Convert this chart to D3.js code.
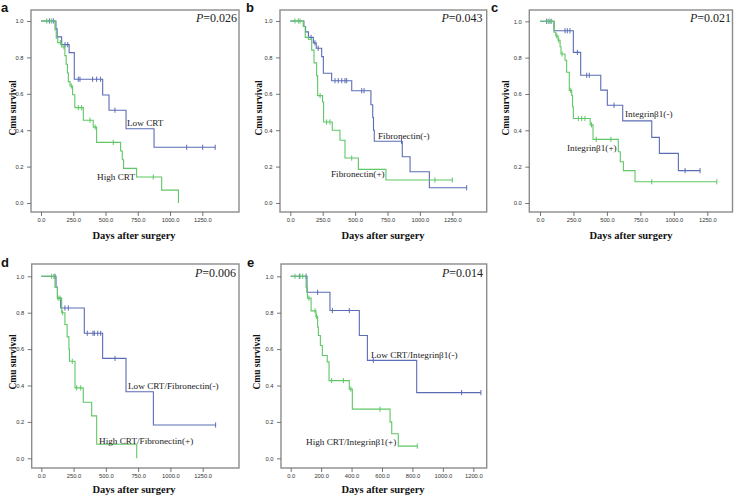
<!DOCTYPE html>
<html><head><meta charset="utf-8">
<script src="https://cdn.jsdelivr.net/npm/d3@7"></script>
<style>body{margin:0;background:#fff} svg{display:block}</style>
</head><body>
<svg id="chart" width="734" height="496"></svg>
<script>
// ---------- DATA ----------
const survTicks = [0, 0.2, 0.4, 0.6, 0.8, 1.0];
const daysTicks = [0, 250, 500, 750, 1000, 1250];
const daysTicksE = [0, 200, 400, 600, 800, 1000, 1200];

// Panel a
const aLowT = [0,116,125,160,218,258,478,527,659,876,1350];
const aLowS = [1,0.957,0.913,0.87,0.826,0.68,0.593,0.51,0.408,0.306,0.306];
const aLowC = [65,95,186,207,289,302,400,431,462,573,1129,1253,1350];
const aHighT = [0,108,118,130,160,185,195,205,212,225,245,262,328,405,431,617,630,640,741,935,1065];
const aHighS = [1,0.952,0.905,0.881,0.857,0.81,0.762,0.714,0.667,0.643,0.595,0.524,0.455,0.417,0.333,0.286,0.238,0.19,0.143,0.071,0];
const aHighC = [45,80,150,178,235,289,315,380,420,560,870];

// Panel b
const bNegT = [0,105,118,140,178,200,242,255,319,474,622,636,642,648,864,924,1073,1361];
const bNegS = [1,0.97,0.94,0.91,0.88,0.85,0.804,0.713,0.672,0.617,0.54,0.47,0.40,0.339,0.254,0.172,0.084,0.084];
const bNegC = [160,190,215,345,370,397,422,435,551,569,858,1361];
const bPosT = [0,100,115,139,165,183,203,211,249,257,324,383,422,525,738,1250];
const bPosS = [1,0.97,0.91,0.90,0.84,0.77,0.70,0.59,0.555,0.445,0.40,0.345,0.247,0.185,0.126,0.126];
const bPosC = [36,62,75,230,280,306,474,1116,1250];

// Panel c
const cNegT = [0,105,249,304,454,503,618,835,892,1034,1196];
const cNegS = [1,0.948,0.829,0.703,0.621,0.538,0.452,0.361,0.273,0.178,0.178];
const cNegC = [50,75,187,204,224,279,349,368,553,1084,1196];
const cPosT = [0,105,118,135,150,157,187,199,219,237,243,249,375,396,585,600,623,710,1321];
const cPosS = [1,0.94,0.92,0.896,0.86,0.82,0.786,0.72,0.62,0.593,0.53,0.465,0.43,0.35,0.282,0.227,0.178,0.117,0.117];
const cPosC = [62,87,125,140,165,230,286,311,336,385,420,530,835,1321];

// Panel d
const dNegT = [0,114,125,150,333,475,656,868,1350];
const dNegS = [1,0.94,0.88,0.826,0.687,0.549,0.366,0.183,0.183];
const dNegC = [106,183,209,356,400,411,437,460,571,1350];
const dPosT = [0,106,125,158,183,200,214,218,261,325,390,429,739];
const dPosS = [1,0.94,0.88,0.80,0.735,0.667,0.60,0.533,0.387,0.308,0.233,0.077,0];
const dPosC = [80,98,130,145,165,240,274,305];

// Panel e
const eNegT = [0,107,258,451,504,828,1250];
const eNegS = [1,0.912,0.812,0.675,0.538,0.361,0.361];
const eNegC = [57,101,177,274,385,543,1123,1250];
const ePosT = [0,101,110,134,166,177,182,195,208,240,252,385,405,653,664,707,832];
const ePosS = [1,0.94,0.88,0.81,0.78,0.72,0.675,0.62,0.565,0.53,0.427,0.38,0.27,0.2,0.135,0.067,0.067];
const ePosC = [28,61,79,120,160,170,269,346,395,587,832];

const panelLetters = ['a','b','c','d','e'];
const pValues = ['0.026','0.043','0.021','0.006','0.014'];
const curveLabels = [
  ['Low CRT','High CRT'],
  ['Fibronectin(-)','Fibronectin(+)'],
  ['Integrinβ1(-)','Integrinβ1(+)'],
  ['Low CRT/Fibronectin(-)','High CRT/Fibronectin(+)'],
  ['Low CRT/Integrinβ1(-)','High CRT/Integrinβ1(+)']
];
const yTitle = 'Cmu survival';
const xTitle = 'Days after surgery';

// ---------- LAYOUT / STYLE ----------
const BLUE = '#5b6cb6';
const GREEN = '#5fc765';
const FRAME = '#8c8c8c';
const layout = [
  {frame:[31,10,239,212], xr:[41,202.3], xd:1250, yr:[203,21], ticks:daysTicks,
   letter:[1,12], yT:[16,108], xT:[134,239], p:[237,22],
   lab:[[127,126],[97,180]]},
  {frame:[280,10,486.7,212], xr:[290.3,452.3], xd:1250, yr:[203,21], ticks:daysTicks,
   letter:[246,12], yT:[262,108], xT:[383,239], p:[482.5,22],
   lab:[[378,139],[331,177]]},
  {frame:[529.3,10,732.5,212], xr:[540,707.3], xd:1250, yr:[203,21.3], ticks:daysTicks,
   letter:[491,12], yT:[509,108], xT:[631,239], p:[731,22],
   lab:[[625,117],[567,151]]},
  {frame:[31.7,264,239,468], xr:[41.3,202.7], xd:1250, yr:[458.3,276.3], ticks:daysTicks,
   letter:[1,267], yT:[16,362], xT:[134,493], p:[236,277],
   lab:[[128,389],[99,444]]},
  {frame:[281,264,486.7,468], xr:[290.7,473.3], xd:1200, yr:[458.3,276.3], ticks:daysTicksE,
   letter:[247,267], yT:[260,362], xT:[383,493], p:[483,277],
   lab:[[371,358],[306,445]]}
];
const curveData = [
  [[aLowT,aLowS,aLowC],[aHighT,aHighS,aHighC]],
  [[bNegT,bNegS,bNegC],[bPosT,bPosS,bPosC]],
  [[cNegT,cNegS,cNegC],[cPosT,cPosS,cPosC]],
  [[dNegT,dNegS,dNegC],[dPosT,dPosS,dPosC]],
  [[eNegT,eNegS,eNegC],[ePosT,ePosS,ePosC]]
];

const svg = d3.select('#chart');
const fmt = d3.format('.1f');

layout.forEach((L, i) => {
  const g = svg.append('g');
  const x = d3.scaleLinear().domain([0, L.xd]).range(L.xr);
  const y = d3.scaleLinear().domain([0, 1]).range(L.yr);
  const [fx0, fy0, fx1, fy1] = L.frame;

  // frame
  g.append('rect').attr('x', fx0).attr('y', fy0).attr('width', fx1 - fx0).attr('height', fy1 - fy0)
    .attr('fill', '#fff').attr('stroke', FRAME).attr('stroke-width', 1.4);

  // axes
  const xa = g.append('g').attr('transform', `translate(0,${fy1})`)
    .call(d3.axisBottom(x).tickValues(L.ticks).tickFormat(fmt).tickSize(4).tickPadding(2));
  const ya = g.append('g').attr('transform', `translate(${fx0},0)`)
    .call(d3.axisLeft(y).tickValues(survTicks).tickFormat(fmt).tickSize(4).tickPadding(3.5));
  [xa, ya].forEach(a => {
    a.select('.domain').remove();
    a.selectAll('line').attr('stroke', '#555').attr('stroke-width', 0.8);
    a.selectAll('text').attr('fill', '#333').attr('font-size', 5.8)
      .attr('font-family', 'Liberation Sans, Arial, sans-serif');
  });

  // curves
  const line = d3.line().x(d => x(d[0])).y(d => y(d[1])).curve(d3.curveStepAfter);
  const colors = [BLUE, GREEN];
  curveData[i].forEach((cd, k) => {
    const [T, S, C] = cd;
    const pts = T.map((t, j) => [t, S[j]]);
    g.append('path').datum(pts).attr('d', line).attr('fill', 'none')
      .attr('stroke', colors[k]).attr('stroke-width', 1.1);
    const survAt = t => { let v = S[0]; T.forEach((tt, j) => { if (tt <= t) v = S[j]; }); return v; };
    g.selectAll(null).data(C).enter().append('line')
      .attr('x1', d => x(d)).attr('x2', d => x(d))
      .attr('y1', d => y(survAt(d)) - 2.6).attr('y2', d => y(survAt(d)) + 2.6)
      .attr('stroke', colors[k]).attr('stroke-width', 1);
  });

  // curve labels
  curveLabels[i].forEach((t, k) => {
    g.append('text').attr('x', L.lab[k][0]).attr('y', L.lab[k][1]).text(t)
      .attr('font-family', 'Liberation Serif, Times New Roman, serif').attr('font-size', 9.2).attr('fill', '#222');
  });

  // P value
  const pt = g.append('text').attr('x', L.p[0]).attr('y', L.p[1]).attr('text-anchor', 'end')
    .attr('font-family', 'Liberation Serif, Times New Roman, serif').attr('font-size', 12).attr('fill', '#222');
  pt.append('tspan').attr('font-style', 'italic').text('P');
  pt.append('tspan').text('=' + pValues[i]);

  // panel letter
  g.append('text').attr('x', L.letter[0]).attr('y', L.letter[1]).text(panelLetters[i])
    .attr('font-family', 'Liberation Sans, Arial, sans-serif').attr('font-weight', 'bold').attr('font-size', 13).attr('fill', '#111');

  // axis titles
  g.append('text').attr('transform', `translate(${L.yT[0]},${L.yT[1]}) rotate(-90)`).attr('text-anchor', 'middle')
    .text(yTitle).attr('font-family', 'Liberation Serif, Times New Roman, serif').attr('font-weight', 'bold')
    .attr('font-size', 9.5).attr('fill', '#111');
  g.append('text').attr('x', L.xT[0]).attr('y', L.xT[1]).attr('text-anchor', 'middle')
    .text(xTitle).attr('font-family', 'Liberation Serif, Times New Roman, serif').attr('font-weight', 'bold')
    .attr('font-size', 10.5).attr('fill', '#111');
});
</script>
</body></html>
